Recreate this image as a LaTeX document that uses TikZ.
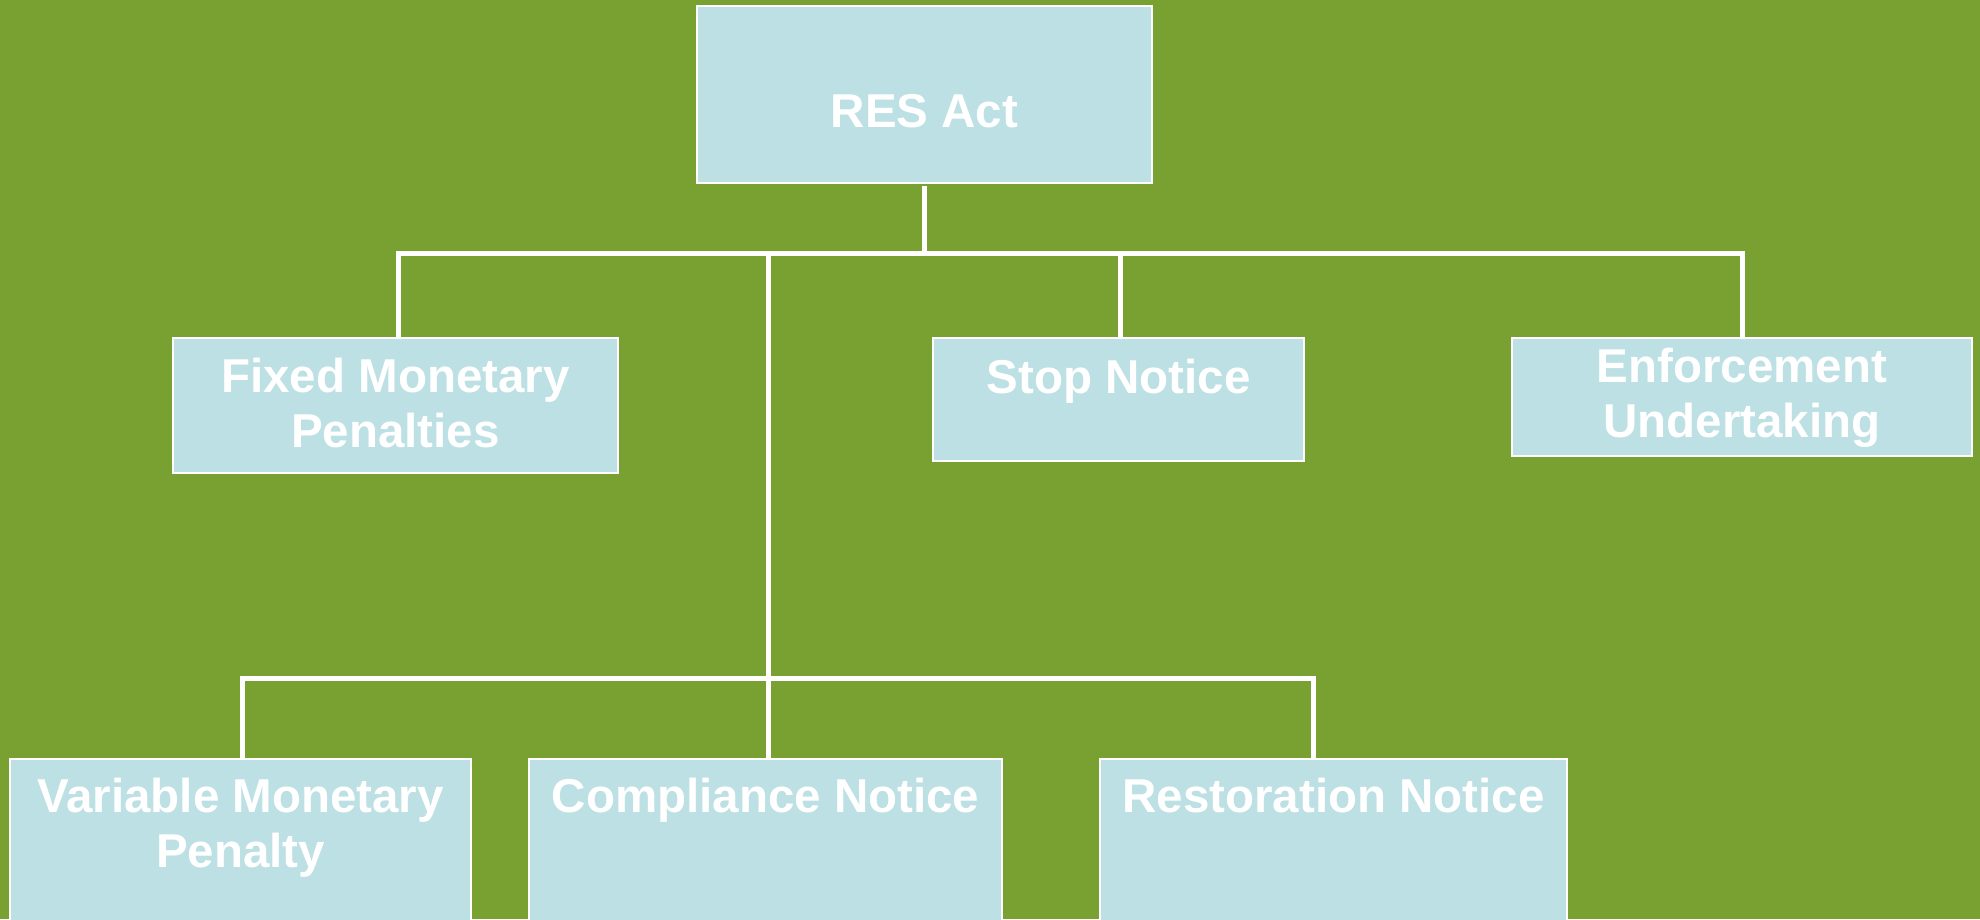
\documentclass[tikz,border=0pt]{standalone}
\usepackage{fontspec}
\setmainfont{Liberation Sans}
\definecolor{bg}{RGB}{120,161,50}
\definecolor{boxfill}{RGB}{188,224,227}
\begin{document}
\begin{tikzpicture}[x=1pt,y=-1pt,
  box/.style={draw=white, line width=1.2pt, fill=boxfill, inner sep=0pt, outer sep=0pt},
  lbl/.style={text=white, font=\bfseries\fontsize{47.5}{55}\selectfont, align=center, anchor=base, inner sep=0pt},
  conn/.style={draw=white, line width=5pt}]
\fill[bg] (0,0) rectangle (1980,919);
\useasboundingbox (0,0) rectangle (1980,919);
% boxes
\node[box, minimum width=455pt, minimum height=177pt] (res) at (924.5,94.5) {};
\node[box, minimum width=445pt, minimum height=135pt] (fixed) at (395.5,405.5) {};
\node[box, minimum width=371pt, minimum height=123pt] (stop) at (1118.5,399.5) {};
\node[box, minimum width=460pt, minimum height=118pt] (enf) at (1742,397) {};
\node[box, minimum width=461pt, minimum height=181pt] (var) at (240.5,849.5) {};
\node[box, minimum width=473pt, minimum height=181pt] (comp) at (765.5,849.5) {};
\node[box, minimum width=467pt, minimum height=181pt] (rest) at (1333.5,849.5) {};
% connector points
\coordinate (hubA) at (924.5,253.5);
\coordinate (dFix) at (398,253.5);
\coordinate (dStop) at (1120,253.5);
\coordinate (dEnf) at (1742,253.5);
\coordinate (trunk) at (768,253.5);
\coordinate (dVar) at (242,678);
\coordinate (dRest) at (1313,678);
% connectors
\draw[conn] ([yshift=-3pt]res.south) -- (hubA);
\draw[conn] (dFix |- fixed.north) -- (dFix) -- (dEnf) -- (dEnf |- enf.north);
\draw[conn] (dStop) -- (dStop |- stop.north);
\draw[conn] (trunk) -- (trunk |- comp.north);
\draw[conn] (dVar |- var.north) -- (dVar) -- (dRest) -- (dRest |- rest.north);
% labels (anchor base = baseline of last line)
\node[lbl] (tres) at (924.5,127) {RES Act};
\node[lbl] (tfixed) at (395.5,447) {Fixed Monetary\\Penalties};
\node[lbl] (tstop) at (1118.5,393) {Stop Notice};
\node[lbl] (tenf) at (1742,437) {Enforcement\\Undertaking};
\node[lbl] (tvar) at (240.5,867) {Variable Monetary\\Penalty};
\node[lbl] (tcomp) at (765.5,812) {Compliance Notice};
\node[lbl] (trest) at (1333.5,812) {Restoration Notice};
\end{tikzpicture}
\end{document}
